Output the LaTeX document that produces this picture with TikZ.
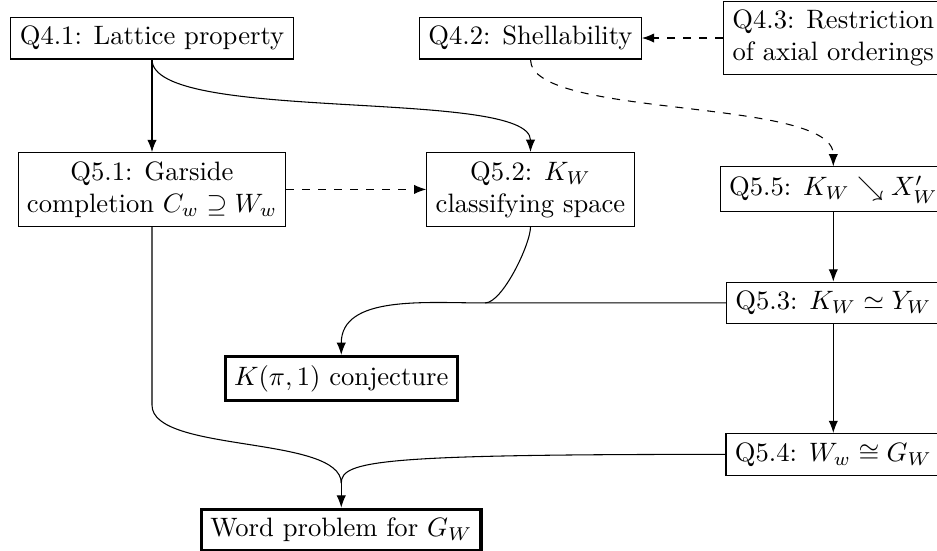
\documentclass[tikz,border=0pt]{standalone}
\usepackage{amsfonts,amsmath,amssymb,tikz,xcolor}
\usetikzlibrary{arrows.meta}

\begin{document}
\begin{tikzpicture}[>={Latex[length=4.6pt,width=3.5pt]},every node/.style={draw=black,align=center},goal/.style={very thick}]
            \useasboundingbox (-2.008,0.502) rectangle (10.37,-6.764);

            \node (q41) at (0,0) {Q4.1: Lattice property};
            \node (q42) at (5,0) {Q4.2: Shellability};
            \node (q43) at (9,0) {Q4.3: Restriction\\of axial orderings};
            \node (q51) at (0,-2) {Q5.1: Garside\\completion $C_w\supseteq W_w$};
            \node (q52) at (5,-2) {Q5.2: $K_W$\\classifying space};
            \node (q55) at (9,-2) {Q5.5: $K_W\searrow X'_W$};
            \node (q53) at (9,-3.5) {Q5.3: $K_W\simeq Y_W$};
            \node[goal] (k) at (2.5,-4.5) {$K(\pi,1)$ conjecture};
            \node (q54) at (9,-5.5) {Q5.4: $W_w\cong G_W$};
            \node[goal] (word) at (2.5,-6.5) {Word problem for $G_W$};

            \coordinate (kj) at (4.4,-3.5);
            \coordinate (wj) at (2.5,-5.88);

            \path [->] (q41) edge (q51);
            \path [->,dashed] (q51) edge (q52);
            \path [->,dashed] (q43) edge (q42);
            \path [->] (q55) edge (q53);
            \path [->] (q53) edge (q54);

            \draw [->] (q41.south) .. controls +(0,-0.85) and +(0,0.85) .. (q52.north);
            \draw [->,dashed] (q42.south) .. controls +(0,-0.79) and +(0,0.92) .. (q55.north);

            \draw (q52.south) to[out=-90,in=0,looseness=0.5] (kj);
            \draw [->] (q53.west) -- (kj) to[out=180,in=90] (k.north);

            \draw (q51.south) -- (0,-4.85) to[out=-90,in=90,looseness=0.6] (wj);
            \draw (q54.west) .. controls +(-4.56,0) and +(0,0.3) .. (wj);
            \draw [->] (wj) -- (word);
        \end{tikzpicture}
\end{document}
